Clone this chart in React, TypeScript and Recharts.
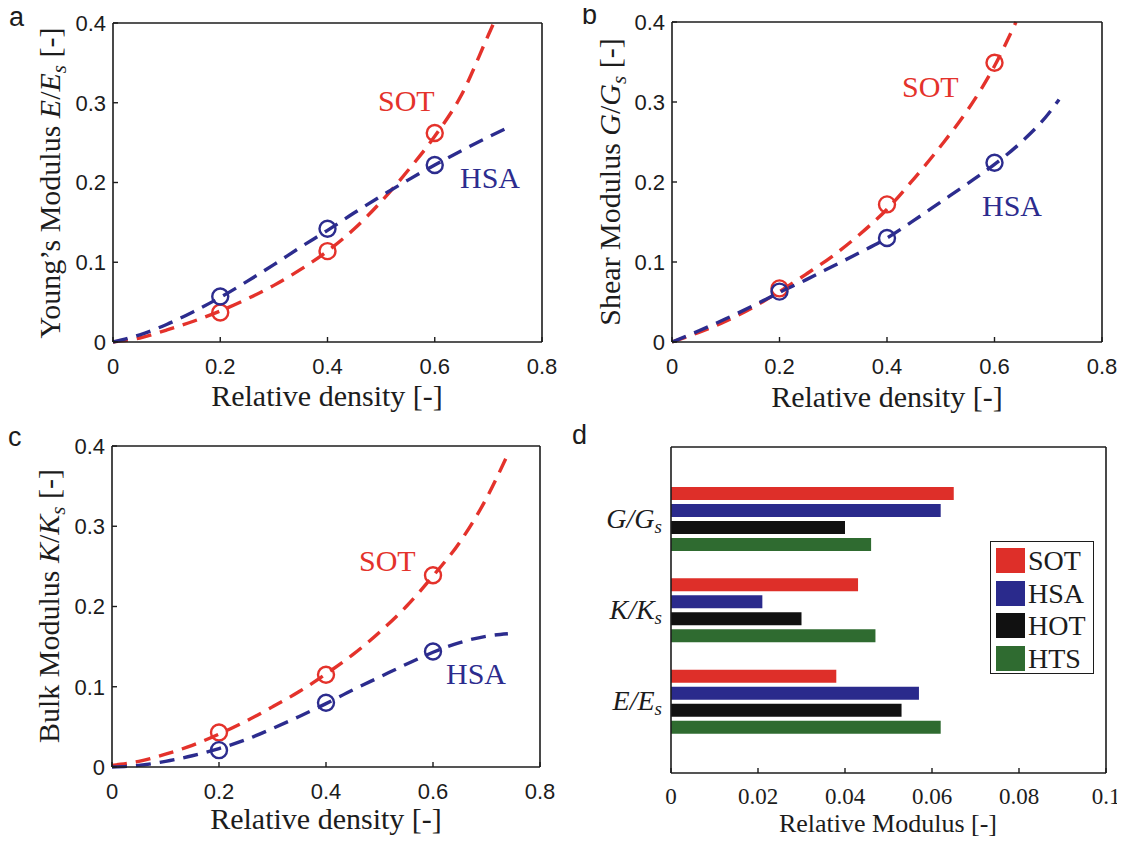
import React from 'react';
import { ComposedChart, Line, Scatter, XAxis, YAxis, BarChart, Bar } from 'recharts';

const RED = '#e4322b';
const NAVY = '#2c2c8e';
const INK = '#1c1c1c';
const SANS = '"Liberation Sans", Arial, Helvetica, sans-serif';
const SERIF = '"Liberation Serif", "Times New Roman", serif';

const densityTicks = [0, 0.2, 0.4, 0.6, 0.8];
const modulusTicks = [0, 0.1, 0.2, 0.3, 0.4];
const sampleDensity = [0.2, 0.4, 0.6];

// a - Young's modulus, fitted curves [density, E/Es] and measured points
const youngSotFit = [[0, 0], [0.05, 0.005], [0.1, 0.015], [0.15, 0.026], [0.2, 0.039], [0.25, 0.054], [0.3, 0.071], [0.35, 0.091], [0.4, 0.114], [0.45, 0.142], [0.5, 0.176], [0.55, 0.215], [0.6, 0.258], [0.65, 0.31], [0.7, 0.385], [0.71, 0.4]];
const youngHsaFit = [[0, 0], [0.05, 0.009], [0.1, 0.022], [0.15, 0.038], [0.2, 0.056], [0.25, 0.076], [0.3, 0.097], [0.35, 0.119], [0.4, 0.14], [0.45, 0.162], [0.5, 0.183], [0.55, 0.203], [0.6, 0.222], [0.65, 0.24], [0.7, 0.257], [0.74, 0.27]];
const youngSotPts = [0.037, 0.114, 0.262];
const youngHsaPts = [0.057, 0.142, 0.222];

// b - shear modulus
const shearSotFit = [[0, 0], [0.05, 0.012], [0.1, 0.026], [0.15, 0.043], [0.2, 0.063], [0.25, 0.085], [0.3, 0.108], [0.35, 0.135], [0.4, 0.166], [0.45, 0.204], [0.5, 0.245], [0.55, 0.29], [0.6, 0.345], [0.64, 0.4]];
const shearHsaFit = [[0, 0], [0.05, 0.014], [0.1, 0.029], [0.15, 0.045], [0.2, 0.062], [0.25, 0.078], [0.3, 0.095], [0.35, 0.112], [0.4, 0.13], [0.45, 0.152], [0.5, 0.175], [0.55, 0.198], [0.6, 0.222], [0.65, 0.25], [0.7, 0.285], [0.72, 0.303]];
const shearSotPts = [0.067, 0.172, 0.349];
const shearHsaPts = [0.063, 0.13, 0.224];

// c - bulk modulus
const bulkSotFit = [[0, 0.002], [0.05, 0.007], [0.1, 0.016], [0.15, 0.027], [0.2, 0.041], [0.25, 0.057], [0.3, 0.075], [0.35, 0.094], [0.4, 0.116], [0.45, 0.14], [0.5, 0.168], [0.55, 0.2], [0.6, 0.238], [0.65, 0.28], [0.7, 0.335], [0.74, 0.39]];
const bulkHsaFit = [[0, 0], [0.05, 0.002], [0.1, 0.007], [0.15, 0.014], [0.2, 0.023], [0.25, 0.034], [0.3, 0.048], [0.35, 0.063], [0.4, 0.079], [0.45, 0.096], [0.5, 0.112], [0.55, 0.128], [0.6, 0.143], [0.65, 0.155], [0.7, 0.163], [0.74, 0.166]];
const bulkSotPts = [0.043, 0.115, 0.239];
const bulkHsaPts = [0.021, 0.08, 0.144];

// d - relative modulus per architecture
const modulusNames = ['G/Gs', 'K/Ks', 'E/Es'];
const sotBars = [0.065, 0.043, 0.038];
const hsaBars = [0.062, 0.021, 0.057];
const hotBars = [0.04, 0.03, 0.053];
const htsBars = [0.046, 0.047, 0.062];
const relTicks = [0, 0.02, 0.04, 0.06, 0.08, 0.1];
const barSeries = [
  { key: 'SOT', color: '#de2f29' },
  { key: 'HSA', color: '#2a2a8c' },
  { key: 'HOT', color: '#111111' },
  { key: 'HTS', color: '#2f6b30' },
];

const barRows = modulusNames.map((name, i) => ({
  name,
  SOT: sotBars[i],
  HSA: hsaBars[i],
  HOT: hotBars[i],
  HTS: htsBars[i],
}));

const toXY = (pairs: number[][]) => pairs.map(([x, y]) => ({ x, y }));
const toPts = (ys: number[]) => sampleDensity.map((x, i) => ({ x, y: ys[i] }));

const ring = (color: string) => (p: any) => (
  <circle cx={p.cx} cy={p.cy} r={8} fill="none" stroke={color} strokeWidth={2.4} />
);

const axisLine = { stroke: INK, strokeWidth: 1.6 };
const tickLine = { stroke: INK, strokeWidth: 1.4 };
const Y_W = 60;
const X_H = 40;

interface Box { left: number; top: number; width: number; height: number }
interface Plot { l: number; t: number; r: number; b: number }

// top / right axes are 1px thick so that recharts still draws them (box + inner ticks)
const marginFor = (box: Box, plot: Plot, yw: number) => ({
  left: plot.l - box.left - yw,
  top: plot.t - box.top - 1,
  right: box.left + box.width - plot.r - 1,
  bottom: box.top + box.height - plot.b - X_H,
});

function CurvePanel({ box, plot, sotFit, hsaFit, sotPts, hsaPts }: {
  box: Box; plot: Plot; sotFit: number[][]; hsaFit: number[][]; sotPts: number[]; hsaPts: number[];
}) {
  const tickFont = { fill: INK, fontSize: 22, fontFamily: SANS };
  return (
    <div style={{ position: 'absolute', left: box.left, top: box.top }}>
      <ComposedChart width={box.width} height={box.height} margin={marginFor(box, plot, Y_W)}>
        <XAxis dataKey="x" type="number" domain={[0, 0.8]} ticks={densityTicks} interval={0}
          height={X_H} tickSize={-5} tickMargin={21} axisLine={axisLine} tickLine={tickLine} tick={tickFont} />
        <XAxis xAxisId="top" orientation="top" type="number" domain={[0, 0.8]} ticks={densityTicks} interval={0}
          height={1} tickSize={-5} axisLine={axisLine} tickLine={tickLine} tick={false} />
        <YAxis type="number" domain={[0, 0.4]} ticks={modulusTicks} interval={0}
          width={Y_W} tickSize={-5} tickMargin={12} axisLine={axisLine} tickLine={tickLine} tick={tickFont} />
        <YAxis yAxisId="r" orientation="right" type="number" domain={[0, 0.4]} ticks={modulusTicks} interval={0}
          width={1} tickSize={-5} axisLine={axisLine} tickLine={tickLine} tick={false} />
        <Line data={toXY(sotFit)} dataKey="y" type="monotone" stroke={RED} strokeWidth={3.4}
          strokeDasharray="15 9" dot={false} isAnimationActive={false} />
        <Line data={toXY(hsaFit)} dataKey="y" type="monotone" stroke={NAVY} strokeWidth={3.4}
          strokeDasharray="15 9" dot={false} isAnimationActive={false} />
        <Scatter data={toPts(sotPts)} dataKey="y" shape={ring(RED)} isAnimationActive={false} />
        <Scatter data={toPts(hsaPts)} dataKey="y" shape={ring(NAVY)} isAnimationActive={false} />
      </ComposedChart>
    </div>
  );
}

function CategoryTick(props: any) {
  const { x, y, payload } = props;
  const name: string = payload.value;
  const letter = name[0];
  return (
    <text x={x} y={y + 9} textAnchor="end" fontFamily={SERIF} fontSize={28} fontStyle="italic" fill={INK}>
      {letter}/{letter}
      <tspan fontSize={19} dy={5}>s</tspan>
    </text>
  );
}

function BarPanel() {
  const box = { left: 560, top: 420, width: 565, height: 422 };
  const plot = { l: 671, t: 447, r: 1106, b: 773 };
  const YW = 80;
  const pad = { top: 26, bottom: 26 };
  return (
    <div style={{ position: 'absolute', left: box.left, top: box.top }}>
      <BarChart layout="vertical" width={box.width} height={box.height} data={barRows}
        margin={marginFor(box, plot, YW)} barSize={13} barGap={4}>
        <XAxis type="number" domain={[0, 0.1]} ticks={relTicks} interval={0} height={X_H}
          tickSize={-5} tickMargin={20} axisLine={axisLine} tickLine={tickLine}
          tick={{ fill: INK, fontSize: 23, fontFamily: SERIF }} />
        <XAxis xAxisId="top" orientation="top" type="number" domain={[0, 0.1]} ticks={relTicks} interval={0}
          height={1} tickSize={-5} axisLine={axisLine} tickLine={tickLine} tick={false} />
        <YAxis type="category" dataKey="name" width={YW} padding={pad} interval={0}
          tickSize={-5} tickMargin={14} axisLine={axisLine} tickLine={false} tick={<CategoryTick />} />
        <YAxis yAxisId="r" orientation="right" type="category" dataKey="name" width={1} padding={pad} interval={0}
          tickSize={-5} axisLine={axisLine} tickLine={tickLine} tick={false} />
        {barSeries.map((s) => (
          <Bar key={s.key} dataKey={s.key} fill={s.color} isAnimationActive={false} />
        ))}
      </BarChart>
    </div>
  );
}

function Titles() {
  const sub = (base: string) => (
    <>
      <tspan fontStyle="italic">{base}</tspan>/<tspan fontStyle="italic">{base}</tspan>
      <tspan fontStyle="italic" fontSize={21} dy={6}>s</tspan>
      <tspan dy={-6}> [-]</tspan>
    </>
  );
  const yTitle = (x: number, y: number, lead: string, base: string) => (
    <text x={x} y={y} transform={`rotate(-90 ${x} ${y})`} textAnchor="middle" fontFamily={SERIF} fontSize={30} fill={INK}>
      {lead}{sub(base)}
    </text>
  );
  const xTitle = (x: number, y: number, label: string, size = 30) => (
    <text x={x} y={y} textAnchor="middle" fontFamily={SERIF} fontSize={size} fill={INK}>{label}</text>
  );
  const note = (x: number, y: number, label: string, color: string) => (
    <text x={x} y={y} fontFamily={SERIF} fontSize={30} fill={color}>{label}</text>
  );
  const letter = (x: number, y: number, label: string) => (
    <text x={x} y={y} fontFamily={SANS} fontSize={27} fill={INK}>{label}</text>
  );
  return (
    <svg width={1125} height={842} style={{ position: 'absolute', left: 0, top: 0, pointerEvents: 'none' }}>
      {letter(9, 26, 'a')}
      {letter(582, 24, 'b')}
      {letter(8, 446, 'c')}
      {letter(572, 444, 'd')}
      {xTitle(327, 406, 'Relative density [-]')}
      {xTitle(887, 407, 'Relative density [-]')}
      {xTitle(326, 829, 'Relative density [-]')}
      {xTitle(888, 832, 'Relative Modulus [-]', 26)}
      {yTitle(60, 183, 'Young’s Modulus ', 'E')}
      {yTitle(620, 182, 'Shear Modulus ', 'G')}
      {yTitle(59, 606, 'Bulk Modulus ', 'K')}
      {note(378, 111, 'SOT', RED)}
      {note(460, 188, 'HSA', NAVY)}
      {note(902, 97, 'SOT', RED)}
      {note(982, 216, 'HSA', NAVY)}
      {note(359, 571, 'SOT', RED)}
      {note(446, 684, 'HSA', NAVY)}
    </svg>
  );
}

function BarLegend() {
  return (
    <div style={{
      position: 'absolute', left: 990, top: 541, width: 104, height: 133, boxSizing: 'border-box',
      border: `1.6px solid ${INK}`, background: '#fff',
    }}>
      {barSeries.map((s, i) => (
        <div key={s.key} style={{ position: 'absolute', left: 5, top: 6 + i * 32.5, display: 'flex', alignItems: 'center' }}>
          <div style={{ width: 29, height: 25, background: s.color }} />
          <span style={{ marginLeft: 3, fontFamily: SERIF, fontSize: 28, lineHeight: '25px', color: INK }}>{s.key}</span>
        </div>
      ))}
    </div>
  );
}

export default function App() {
  return (
    <div style={{ position: 'relative', width: 1125, height: 842, marginLeft: -8, marginTop: -8, background: '#fff', overflow: 'hidden' }}>
      <CurvePanel box={{ left: 0, top: 0, width: 580, height: 420 }} plot={{ l: 113, t: 23, r: 542, b: 342 }}
        sotFit={youngSotFit} hsaFit={youngHsaFit} sotPts={youngSotPts} hsaPts={youngHsaPts} />
      <CurvePanel box={{ left: 560, top: 0, width: 565, height: 420 }} plot={{ l: 672, t: 22, r: 1102, b: 342 }}
        sotFit={shearSotFit} hsaFit={shearHsaFit} sotPts={shearSotPts} hsaPts={shearHsaPts} />
      <CurvePanel box={{ left: 0, top: 420, width: 580, height: 422 }} plot={{ l: 112, t: 446, r: 540, b: 767 }}
        sotFit={bulkSotFit} hsaFit={bulkHsaFit} sotPts={bulkSotPts} hsaPts={bulkHsaPts} />
      <BarPanel />
      <BarLegend />
      <Titles />
    </div>
  );
}
